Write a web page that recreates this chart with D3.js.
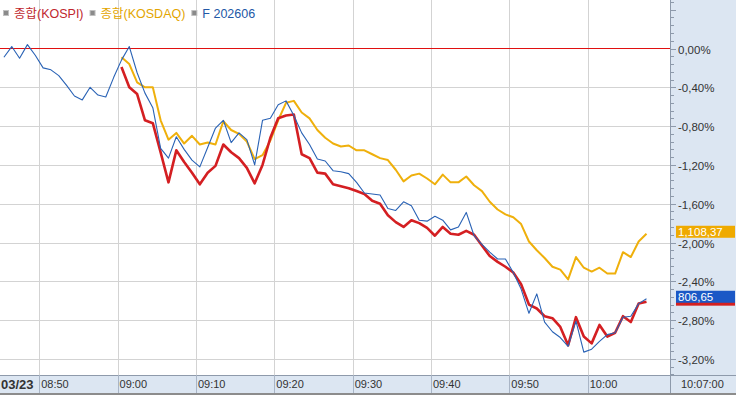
<!DOCTYPE html>
<html>
<head>
<meta charset="utf-8">
<script src="https://cdnjs.cloudflare.com/ajax/libs/d3/7.8.5/d3.min.js"></script>
<style>
    body { margin: 0; background: #fff; }
    svg { display: block; font-family: "Liberation Sans", Arial, "Noto Sans CJK KR", sans-serif; }
</style>
</head>
<body>
<div id="chart"></div>
<script>
// minute bars, % change vs. previous close
const futuresStart = "08:45";
const futures = [
    -0.09, 0.02, -0.10, 0.04, -0.07, -0.20, -0.22, -0.28, -0.38, -0.49, -0.53, -0.40, -0.48, -0.50, -0.30,
    -0.12, 0.02, -0.25, -0.46, -0.61, -1.03, -1.13, -0.91, -1.04, -1.15, -1.22, -1.02, -0.82, -0.74, -0.97,
    -0.87, -0.94, -1.20, -0.74, -0.72, -0.58, -0.54, -0.69, -0.87, -0.99, -1.14, -1.16, -1.26, -1.27, -1.29,
    -1.38, -1.49, -1.50, -1.51, -1.65, -1.67, -1.58, -1.62, -1.77, -1.78, -1.73, -1.77, -1.87, -1.84, -1.69,
    -1.93, -2.02, -2.10, -2.17, -2.17, -2.31, -2.48, -2.73, -2.53, -2.82, -2.92, -2.98, -3.07, -2.81, -3.13,
    -3.10, -3.02, -2.95, -2.93, -2.77, -2.76, -2.63, -2.58
];

const spotStart = "09:00";
const kospi = [
    -0.19, -0.40, -0.47, -0.74, -0.77, -1.07, -1.38, -1.05, -1.17, -1.28, -1.40, -1.28, -1.21, -0.99, -1.07,
    -1.13, -1.23, -1.39, -1.20, -0.92, -0.72, -0.69, -0.68, -1.09, -1.13, -1.28, -1.29, -1.40, -1.42, -1.44,
    -1.47, -1.50, -1.57, -1.60, -1.72, -1.79, -1.84, -1.77, -1.80, -1.85, -1.93, -1.84, -1.91, -1.92, -1.88,
    -1.92, -2.03, -2.14, -2.20, -2.25, -2.31, -2.43, -2.64, -2.68, -2.76, -2.78, -2.87, -3.06, -2.77, -2.97,
    -3.04, -2.85, -2.97, -2.93, -2.76, -2.82, -2.63, -2.61
];
const kosdaq = [
    -0.09, -0.16, -0.35, -0.40, -0.40, -0.74, -0.94, -0.87, -0.98, -0.90, -0.99, -0.97, -0.99, -0.75, -0.84,
    -0.88, -0.96, -1.14, -1.10, -0.95, -0.74, -0.56, -0.54, -0.66, -0.72, -0.84, -0.92, -0.98, -1.01, -1.00,
    -1.05, -1.05, -1.09, -1.13, -1.15, -1.25, -1.37, -1.31, -1.29, -1.34, -1.40, -1.30, -1.38, -1.38, -1.32,
    -1.41, -1.47, -1.58, -1.66, -1.71, -1.74, -1.81, -1.99, -2.08, -2.16, -2.25, -2.28, -2.38, -2.15, -2.26,
    -2.30, -2.26, -2.32, -2.32, -2.10, -2.15, -1.99, -1.91
];

const legendNames = ["종합(KOSPI)", "종합(KOSDAQ)", "F 202606"];
const lastLabels = ["", "1,108,37", "806,65"];
const dateLabel = "03/23";
const timeTicks = ["08:50", "09:00", "09:10", "09:20", "09:30", "09:40", "09:50", "10:00"];
const cursorLabel = "10:07:00";
const yTicks = [0, -0.4, -0.8, -1.2, -1.6, -2.0, -2.4, -2.8, -3.2];

const W = 736, H = 395;
const plotW = 670, plotH = 375;
const colors = ["#d41f22", "#efb00c", "#2962b5"];
const panelFill = "#dce6f2";

const parseT = d3.timeParse("%H:%M:%S");
const hm = s => parseT(s + ":00");

const x = d3.scaleTime()
    .domain([hm("08:45"), parseT("10:10:30")])
    .range([0, plotW]);

const y = d3.scaleLinear()
    .domain([0, -3.2])
    .range([48.5, 358.9]);

// point sits in the middle of its minute bar
const px = t => x(d3.timeSecond.offset(t, 30));

function toSeries(start, values) {
    const t0 = hm(start);
    return values.map((v, i) => ({ t: d3.timeMinute.offset(t0, i), v: v }));
}

const series = [
    toSeries(spotStart, kosdaq),
    toSeries(spotStart, kospi),
    toSeries(futuresStart, futures)
];
// draw order: kosdaq, kospi, futures
const seriesColor = [colors[1], colors[0], colors[2]];
const seriesWidth = [2, 2.6, 1.1];

const svg = d3.select("#chart").append("svg")
    .attr("width", W)
    .attr("height", H);

// grid
const grid = svg.append("g");
grid.selectAll("line.v")
    .data(timeTicks)
    .enter().append("line")
    .attr("x1", d => Math.round(x(hm(d))) + 0.5)
    .attr("x2", d => Math.round(x(hm(d))) + 0.5)
    .attr("y1", 0)
    .attr("y2", plotH)
    .attr("stroke", "#d3d3d3");
grid.selectAll("line.h")
    .data(yTicks.filter(d => d !== 0))
    .enter().append("line")
    .attr("x1", 0)
    .attr("x2", plotW)
    .attr("y1", d => Math.round(y(d)) + 0.5)
    .attr("y2", d => Math.round(y(d)) + 0.5)
    .attr("stroke", "#d3d3d3");
// zero line
grid.append("line")
    .attr("x1", 0)
    .attr("x2", plotW)
    .attr("y1", Math.round(y(0)) - 0.5)
    .attr("y2", Math.round(y(0)) - 0.5)
    .attr("stroke", "#e01010")
    .attr("stroke-width", 1);

// lines
const line = d3.line()
    .x(d => px(d.t))
    .y(d => y(d.v));

series.forEach(function (s, i) {
    svg.append("path")
        .datum(s)
        .attr("fill", "none")
        .attr("stroke", seriesColor[i])
        .attr("stroke-width", seriesWidth[i])
        .attr("stroke-linejoin", "round")
        .attr("d", line);
});

// legend
let lx = 3;
legendNames.forEach(function (name, i) {
    svg.append("rect")
        .attr("x", lx + 0.5).attr("y", 10.5)
        .attr("width", 5).attr("height", 5)
        .attr("fill", "#8a8a8a")
        .attr("stroke", "#c0c0c0");
    const t = svg.append("text")
        .attr("x", lx + 11)
        .attr("y", 17.5)
        .attr("font-size", "12.5px")
        .attr("fill", i === 0 ? "#c0272d" : i === 1 ? "#e3a500" : "#2358a6")
        .text(name);
    lx = lx + 11 + t.node().getComputedTextLength() + 6;
});

// right axis panel
const right = svg.append("g");
right.append("rect")
    .attr("x", plotW).attr("y", 0)
    .attr("width", W - plotW).attr("height", plotH)
    .attr("fill", panelFill);
right.append("line")
    .attr("x1", plotW + 0.5).attr("x2", plotW + 0.5)
    .attr("y1", 0).attr("y2", plotH)
    .attr("stroke", "#8e9aab");

const minor = d3.range(-42, 7).map(k => k * 0.08);
right.selectAll("line.minor")
    .data(minor)
    .enter().append("line")
    .attr("x1", plotW + 1).attr("x2", plotW + 4)
    .attr("y1", d => Math.round(y(d)) + 0.5)
    .attr("y2", d => Math.round(y(d)) + 0.5)
    .attr("stroke", "#8e9aab");
right.selectAll("line.major")
    .data(yTicks.concat([0.4]))
    .enter().append("line")
    .attr("x1", plotW + 1).attr("x2", plotW + 6)
    .attr("y1", d => Math.round(y(d)) + 0.5)
    .attr("y2", d => Math.round(y(d)) + 0.5)
    .attr("stroke", "#8e9aab");
right.selectAll("text.ytick")
    .data(yTicks)
    .enter().append("text")
    .attr("x", plotW + 8)
    .attr("y", d => y(d) + 5)
    .attr("font-size", "11.5px")
    .attr("fill", "#333")
    .text(d => d3.format(".2f")(d).replace("−", "-").replace(".", ",") + "%");

// last value boxes (kospi underneath, futures on top)
[[0, kospi], [1, kosdaq], [2, futures]].forEach(function (p) {
    const i = p[0], vals = p[1];
    const cy = y(vals[vals.length - 1]) - 2;
    right.append("rect")
        .attr("x", plotW + 6).attr("y", cy - 6)
        .attr("width", W - plotW - 7).attr("height", 12)
        .attr("fill", i === 0 ? "#d42020" : i === 1 ? "#efaa00" : "#1b58c6");
    right.append("text")
        .attr("x", plotW + 8).attr("y", cy + 4.5)
        .attr("font-size", "11.5px")
        .attr("fill", "#fff")
        .text(lastLabels[i]);
});

// bottom time strip
const bottom = svg.append("g");
bottom.append("rect")
    .attr("x", 0).attr("y", plotH)
    .attr("width", W).attr("height", 18)
    .attr("fill", panelFill);
bottom.append("line")
    .attr("x1", 0).attr("x2", W)
    .attr("y1", plotH + 0.5).attr("y2", plotH + 0.5)
    .attr("stroke", "#8e9aab");
bottom.append("rect")
    .attr("x", 0).attr("y", plotH + 18)
    .attr("width", W).attr("height", 2)
    .attr("fill", "#8c8c8c");
bottom.selectAll("line.sep")
    .data(timeTicks)
    .enter().append("line")
    .attr("x1", d => Math.round(x(hm(d))) + 0.5)
    .attr("x2", d => Math.round(x(hm(d))) + 0.5)
    .attr("y1", plotH).attr("y2", plotH + 18)
    .attr("stroke", "#a9b5c6");
bottom.append("line")
    .attr("x1", plotW + 0.5).attr("x2", plotW + 0.5)
    .attr("y1", plotH).attr("y2", plotH + 18)
    .attr("stroke", "#8e9aab");
bottom.selectAll("text.xtick")
    .data(timeTicks)
    .enter().append("text")
    .attr("x", d => x(hm(d)) + 2)
    .attr("y", plotH + 13)
    .attr("font-size", "11px")
    .attr("fill", "#333")
    .text(d => d);
bottom.append("text")
    .attr("x", 1).attr("y", plotH + 13.5)
    .attr("font-size", "13px")
    .attr("font-weight", "bold")
    .attr("fill", "#333")
    .text(dateLabel);
bottom.append("text")
    .attr("x", plotW + 11).attr("y", plotH + 13)
    .attr("font-size", "11px")
    .attr("fill", "#333")
    .text(cursorLabel);
</script>
</body>
</html>
